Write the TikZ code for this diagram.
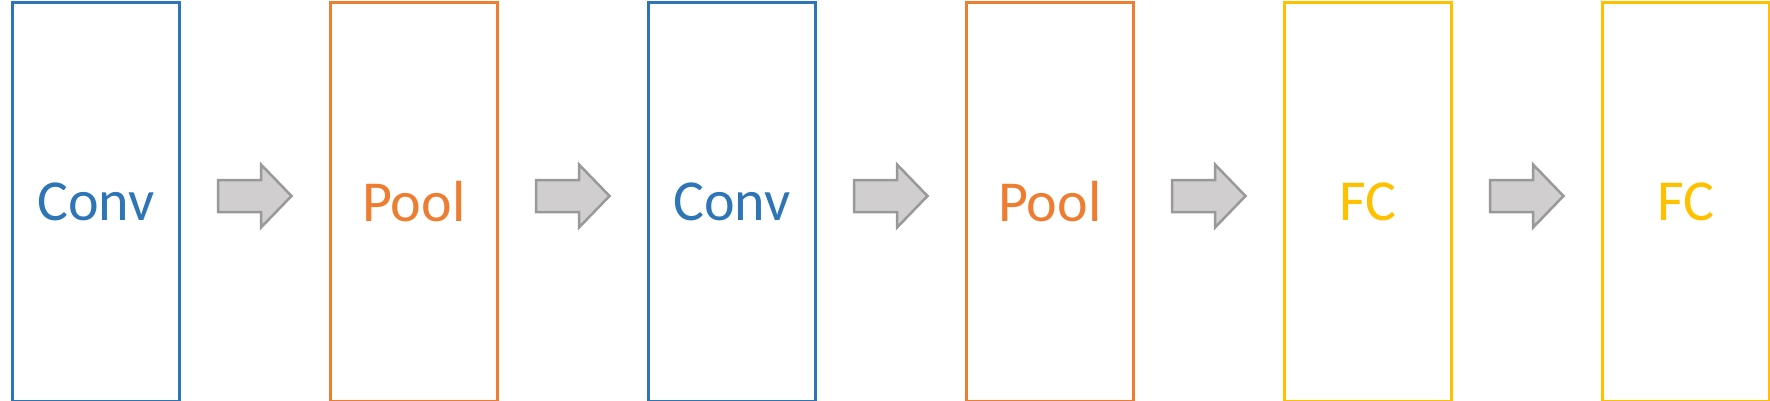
\documentclass[tikz,border=0pt]{standalone}
\usepackage{fontspec}
\setmainfont{Carlito}
\usetikzlibrary{calc}
\definecolor{cblue}{HTML}{2E75B6}
\definecolor{corange}{HTML}{ED7D31}
\definecolor{cyellow}{HTML}{FFC000}
\definecolor{afill}{HTML}{D0CECE}
\definecolor{aline}{HTML}{999999}
\begin{document}
\begin{tikzpicture}[x=1pt,y=-1pt,
  layer/.style={draw=#1,line width=3pt,text=#1,minimum width=166.5pt,minimum height=398pt,
    inner sep=0pt,font=\fontsize{58}{62}\selectfont,anchor=north west},
  blockarrow/.style={draw=aline,fill=afill,line width=2.5pt,line join=miter}]
\useasboundingbox (0,0) rectangle (1770,401);
\node[layer=cblue]   (b1) at (11,1.5)     {Conv};
\node[layer=corange] (b2) at (329,1.5)    {Pool};
\node[layer=cblue]   (b3) at (647,1.5)    {Conv};
\node[layer=corange] (b4) at (965,1.5)    {Pool};
\node[layer=cyellow] (b5) at (1283,1.5)   {FC};
\node[layer=cyellow] (b6) at (1601,1.5)   {FC};
\foreach \i in {1,...,5}{
  \path let \p1=(b\i.east) in coordinate (r\i) at (\x1,196);
  \draw[blockarrow] ($(r\i)+(37.5,-16)$) -- ($(r\i)+(80.5,-16)$) -- ($(r\i)+(80.5,-31.5)$)
    -- ($(r\i)+(111,0)$) -- ($(r\i)+(80.5,31.5)$) -- ($(r\i)+(80.5,16)$) -- ($(r\i)+(37.5,16)$) -- cycle;
}
\end{tikzpicture}
\end{document}
